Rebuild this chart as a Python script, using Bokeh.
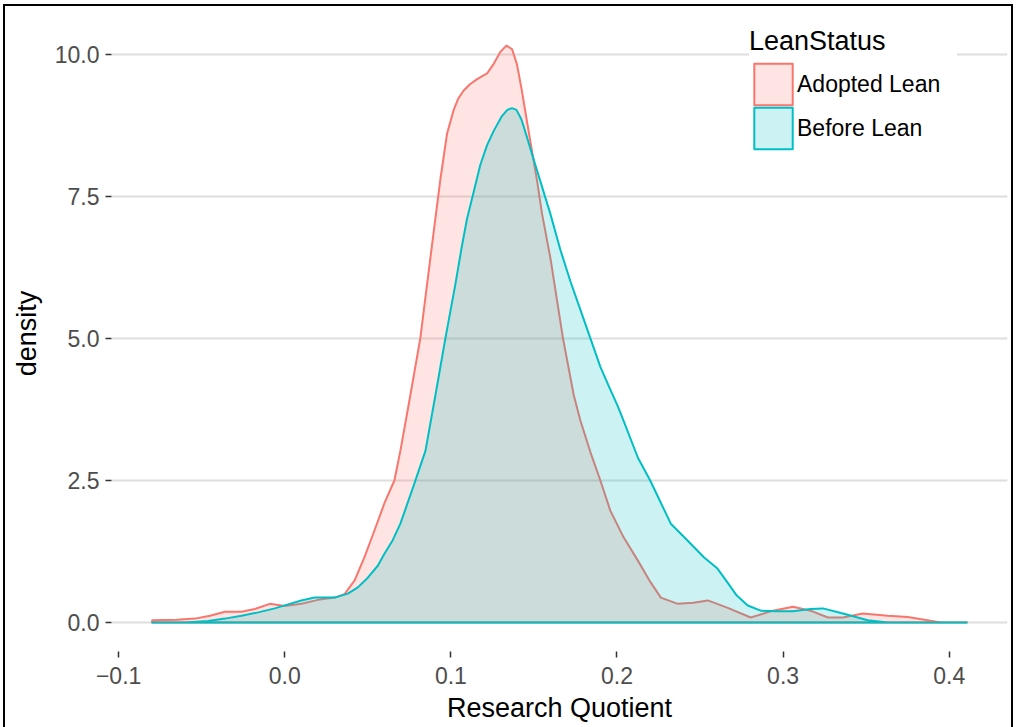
from bokeh.plotting import figure
from bokeh.models import Range1d, Legend, LegendItem, FixedTicker
from bokeh.embed import file_html
from bokeh.resources import INLINE

FONT = "Liberation Sans"

# ---- data ----
series_names = ["Adopted Lean", "Before Lean"]
series_colors = ["#F8766D", "#00BFC4"]

adopted_x = [-0.0798, -0.065, -0.054, -0.045, -0.036, -0.026, -0.018, -0.009, 0.0, 0.010,
             0.020, 0.030, 0.036, 0.042, 0.048, 0.054, 0.060, 0.066, 0.0696, 0.0756,
             0.0816, 0.0876, 0.0937, 0.0977, 0.1017, 0.1045, 0.1077, 0.1115, 0.1158, 0.1218,
             0.1258, 0.1298, 0.1334, 0.1368, 0.1398, 0.1428, 0.1458, 0.1519, 0.1549, 0.160,
             0.1675, 0.174, 0.178, 0.184, 0.190, 0.196, 0.204, 0.2126, 0.220, 0.2264,
             0.2366, 0.246, 0.2547, 0.2667, 0.2805, 0.294, 0.306, 0.3165, 0.327, 0.336,
             0.348, 0.363, 0.375, 0.387, 0.395, 0.4106]
adopted_y = [0.04, 0.05, 0.07, 0.12, 0.19, 0.19, 0.24, 0.33, 0.29, 0.33,
             0.40, 0.44, 0.50, 0.74, 1.15, 1.62, 2.10, 2.50, 3.02, 4.00,
             5.00, 6.40, 7.80, 8.60, 9.02, 9.22, 9.36, 9.47, 9.56, 9.66,
             9.83, 10.04, 10.15, 10.09, 9.82, 9.35, 8.82, 7.77, 7.19, 6.40,
             5.00, 4.00, 3.55, 3.00, 2.50, 1.97, 1.50, 1.09, 0.72, 0.44,
             0.33, 0.35, 0.39, 0.26, 0.09, 0.21, 0.28, 0.21, 0.09, 0.09,
             0.16, 0.12, 0.10, 0.04, 0.0, 0.0]

before_x = [-0.0798, -0.060, -0.046, -0.036, -0.026, -0.016, -0.006, 0.002, 0.010, 0.018,
            0.030, 0.038, 0.044, 0.050, 0.056, 0.060, 0.065, 0.0696, 0.0775, 0.0847,
            0.0907, 0.0967, 0.1027, 0.1065, 0.1097, 0.1135, 0.1177, 0.1218, 0.1258, 0.1305,
            0.1340, 0.1368, 0.1395, 0.1425, 0.1458, 0.1498, 0.1538, 0.1599, 0.166, 0.172,
            0.178, 0.184, 0.190, 0.196, 0.2006, 0.204, 0.2126, 0.220, 0.2324, 0.2423,
            0.2523, 0.2605, 0.2667, 0.2720, 0.2787, 0.2865, 0.296, 0.306, 0.3165, 0.324,
            0.336, 0.351, 0.363, 0.380, 0.4106]
before_y = [0.0, 0.0, 0.03, 0.07, 0.12, 0.18, 0.25, 0.32, 0.39, 0.44,
            0.44, 0.51, 0.62, 0.79, 1.00, 1.21, 1.45, 1.74, 2.40, 3.02,
            4.00, 5.00, 5.95, 6.60, 7.10, 7.55, 8.05, 8.40, 8.65, 8.90,
            9.02, 9.05, 9.02, 8.85, 8.54, 8.15, 7.77, 7.19, 6.55, 6.00,
            5.50, 5.00, 4.50, 4.10, 3.80, 3.55, 2.90, 2.50, 1.74, 1.45,
            1.15, 0.95, 0.70, 0.48, 0.30, 0.21, 0.20, 0.20, 0.24, 0.25,
            0.16, 0.04, 0.0, 0.0, 0.0]

x_ticks = [-0.1, 0.0, 0.1, 0.2, 0.3, 0.4]
x_tick_labels = ["\u22120.1", "0.0", "0.1", "0.2", "0.3", "0.4"]
y_ticks = [0.0, 2.5, 5.0, 7.5, 10.0]
y_tick_labels = ["0.0", "2.5", "5.0", "7.5", "10.0"]

x_title = "Research Quotient"
y_title = "density"
legend_title = "LeanStatus"

# ---- figure ----
p = figure(width=1016, height=727, output_backend="svg", toolbar_location=None,
           x_range=Range1d(-0.1043, 0.4351), y_range=Range1d(-0.5085, 10.68),
           min_border_left=111, min_border_right=9, min_border_top=15, min_border_bottom=76)
# thin black frame around the picture (left, top, right), painted behind the transparent border area
p.styles = {"box-shadow": "inset 3px 0 0 0 white, inset 0 4px 0 0 white, inset -3px 0 0 0 white, "
                          "inset 5px 0 0 0 black, inset 0 6px 0 0 black, inset -5px 0 0 0 black",
            "background-color": "white"}
p.outline_line_color = None
p.background_fill_color = "white"
p.border_fill_color = None

p.xgrid.visible = False
p.ygrid.ticker = FixedTicker(ticks=y_ticks)
p.ygrid.grid_line_color = "#dedede"
p.ygrid.grid_line_width = 2

for ax, ticks, labels in ((p.xaxis[0], x_ticks, x_tick_labels), (p.yaxis[0], y_ticks, y_tick_labels)):
    ax.ticker = FixedTicker(ticks=ticks)
    ax.major_label_overrides = dict(zip(ticks, labels))
    ax.axis_line_color = None
    ax.major_tick_out = 6
    ax.major_tick_in = 0
    ax.major_tick_line_color = "#333333"
    ax.major_tick_line_width = 1.5
    ax.minor_tick_line_color = None
    ax.major_label_text_font = FONT
    ax.major_label_text_font_size = "23px"
    ax.major_label_text_color = "#4D4D4D"
    ax.axis_label_text_font = FONT
    ax.axis_label_text_font_size = "27px"
    ax.axis_label_text_font_style = "normal"
    ax.axis_label_text_color = "black"

p.xaxis.axis_label = x_title
p.yaxis.axis_label = y_title
p.xaxis.major_label_standoff = 9
p.yaxis.major_label_standoff = 6
p.xaxis.axis_label_standoff = 6
p.yaxis.axis_label_standoff = 10

renderers = []
for xs, ys, col in ((adopted_x, adopted_y, series_colors[0]), (before_x, before_y, series_colors[1])):
    px = list(xs) + [xs[0]]
    py = list(ys) + [0.0]
    r = p.patch(px, py, fill_color=col, fill_alpha=0.2, line_color=col, line_width=2,
                line_join="round")
    renderers.append(r)

common = dict(label_text_font=FONT, label_text_font_size="23px", label_text_color="black",
              glyph_width=48, glyph_height=52, label_height=44, label_width=160,
              padding=11, margin=0, label_standoff=0, border_line_color=None)

# first key with the title (white box that breaks the gridline), second key just below it
legend_a = Legend(items=[LegendItem(label=series_names[0], renderers=[renderers[0]])],
                  location=(638, 541), title=legend_title,
                  title_text_font=FONT, title_text_font_size="27px", title_text_font_style="normal",
                  title_text_color="black", title_standoff=1,
                  background_fill_color="white", background_fill_alpha=1.0, **common)
legend_b = Legend(items=[LegendItem(label=series_names[1], renderers=[renderers[1]])],
                  location=(638, 497), background_fill_alpha=0.0, **common)
p.add_layout(legend_a)
p.add_layout(legend_b)

open("out.html", "w").write(file_html(p, INLINE))
